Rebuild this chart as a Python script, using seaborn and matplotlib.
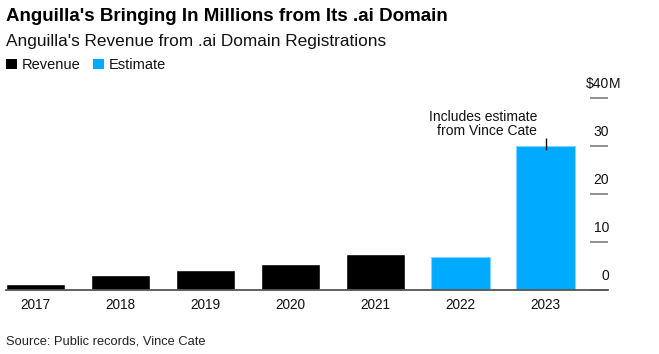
import numpy as np
import pandas as pd
import seaborn as sns
import matplotlib.pyplot as plt
import matplotlib.transforms as mtransforms
from matplotlib.patches import Patch

#%% Data
years    = ['2017', '2018', '2019', '2020', '2021', '2022', '2023']
revenue  = [1.2, 3.1, 4.2, 5.4, 7.5, 6.9, 30.0]
kind     = ['Revenue', 'Revenue', 'Revenue', 'Revenue', 'Revenue', 'Estimate', 'Estimate']
yticks   = [0, 10, 20, 30, 40]

colors   = {'Revenue': '#000000', 'Estimate': '#00aaff'}
df       = pd.DataFrame({'year': years, 'revenue': revenue, 'kind': kind})

#%% Figure
sns.set_style('white')
plt.rcParams['font.family'] = ['Liberation Sans', 'DejaVu Sans']
plt.rcParams['text.color'] = '#111111'

fig = plt.figure(figsize=(6.59, 3.54), dpi=100)
ax  = fig.add_axes([0.0091, 0.1808, 0.9135, 0.543])

sns.barplot(data=df, x='year', y='revenue', hue='kind', palette=colors, dodge=False,
            saturation=1, width=0.69, legend=False, ax=ax)
# light edge on the estimate bars
for bar in ax.patches:
    if bar.get_facecolor()[2] > 0.5:
        bar.set_edgecolor('#80d4ff')
        bar.set_linewidth(0.8)

ax.set_xlim(-0.347, 6.735)
ax.set_ylim(0, 40)
ax.set_xlabel('')
ax.set_ylabel('')
sns.despine(ax=ax, top=True, right=True, left=True)
ax.spines['bottom'].set_color('#555555')
ax.spines['bottom'].set_linewidth(1.3)
ax.tick_params(axis='x', length=0, labelsize=9.8, pad=6, labelcolor='#111111')

# y ticks on the right, labels placed above each tick line
ax.yaxis.tick_right()
ax.set_yticks(yticks)
ax.tick_params(axis='y', direction='in', length=13, width=1.3, color='#888888',
               labelright=False, labelleft=False)
trans = mtransforms.blended_transform_factory(ax.transAxes, ax.transData)
for v in yticks:
    lab = '$%d' % v if v == yticks[-1] else '%d' % v
    ax.annotate(lab, xy=(1, v), xycoords=trans, xytext=(0.8, 10), textcoords='offset points',
                ha='right', va='center', fontsize=10, annotation_clip=False)
ax.annotate('M', xy=(1, yticks[-1]), xycoords=trans, xytext=(0.8, 10), textcoords='offset points',
            ha='left', va='center', fontsize=10, annotation_clip=False)

# annotation on 2023 bar
ax.vlines(len(years) - 1, revenue[-1] - 0.9, revenue[-1] + 1.7, color='#111111', lw=1)
ax.annotate('Includes estimate\nfrom Vince Cate', xy=(len(years) - 1, revenue[-1] + 1.7),
            xytext=(-6, 0), textcoords='offset points', ha='right', va='bottom',
            multialignment='right', fontsize=10, linespacing=1.0)

# titles, legend, source
fig.text(0.009, 0.952, "Anguilla's Bringing In Millions from Its .ai Domain",
         fontsize=13.5, fontweight='bold', va='center', ha='left', color='#000000')
fig.text(0.009, 0.882, "Anguilla's Revenue from .ai Domain Registrations",
         fontsize=12.4, va='center', ha='left')
handles = [Patch(facecolor=colors[k], edgecolor='none', label=k) for k in ['Revenue', 'Estimate']]
fig.legend(handles=handles, loc='center left', bbox_to_anchor=(0.009, 0.816), ncol=2,
           frameon=False, fontsize=10.5, handlelength=0.75, handleheight=0.75,
           handletextpad=0.35, columnspacing=0.85, borderpad=0, borderaxespad=0)
fig.text(0.009, 0.035, 'Source: Public records, Vince Cate', fontsize=9.3, va='center', ha='left',
         color='#222222')

fig.savefig('out.png', dpi=100)
